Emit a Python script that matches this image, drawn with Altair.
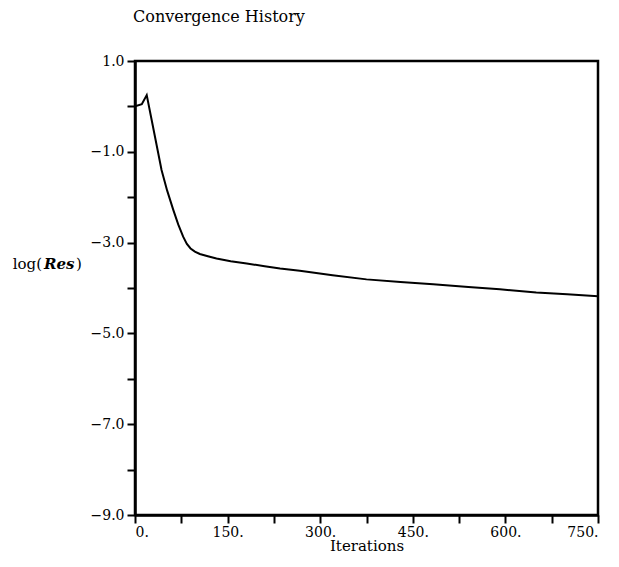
import altair as alt
import pandas as pd

iterations = [0, 11, 19, 27, 35, 43, 52, 62, 70, 78, 84, 90, 97, 105, 118, 132,
              155, 181, 210, 235, 267, 320, 375, 430, 483, 540, 591, 650, 700, 750]
log_res = [0.0, 0.05, 0.25, -0.30, -0.85, -1.40, -1.85, -2.28, -2.60, -2.87, -3.03,
           -3.13, -3.20, -3.25, -3.30, -3.35, -3.41, -3.46, -3.52, -3.57, -3.62,
           -3.72, -3.81, -3.87, -3.92, -3.98, -4.03, -4.10, -4.14, -4.18]
x_ticks = [0, 75, 150, 225, 300, 375, 450, 525, 600, 675, 750]
y_ticks = [1, 0, -1, -2, -3, -4, -5, -6, -7, -8, -9]

df = pd.DataFrame({"it": iterations, "res": log_res})
FONT = "DejaVu Serif"

line = alt.Chart(df).mark_line(color="black", strokeWidth=2, clip=True).encode(
    x=alt.X("it:Q", scale=alt.Scale(domain=[0, 750], nice=False, zero=False),
            axis=alt.Axis(values=x_ticks, title="Iterations",
                          labelExpr="datum.value % 150 == 0 ? format(datum.value, 'd') + '.' : ''",
                          titlePadding=-1)),
    y=alt.Y("res:Q", scale=alt.Scale(domain=[-9, 1], nice=False, zero=False),
            axis=alt.Axis(values=y_ticks, title=None,
                          labelExpr="datum.value % 2 == 0 ? '' : format(datum.value, '.1f')")),
)

lbl = pd.DataFrame({"t": ["log("]})
t1 = alt.Chart(lbl).mark_text(font=FONT, fontSize=15, align="right", baseline="alphabetic",
                              color="black").encode(text="t:N", x=alt.value(-93), y=alt.value(208))
t2 = alt.Chart(pd.DataFrame({"t": ["Res"]})).mark_text(
    font=FONT, fontSize=15, fontStyle="italic", fontWeight="bold", align="left",
    baseline="alphabetic", color="black").encode(text="t:N", x=alt.value(-91), y=alt.value(208))
t3 = alt.Chart(pd.DataFrame({"t": [")"]})).mark_text(
    font=FONT, fontSize=15, align="left", baseline="alphabetic",
    color="black").encode(text="t:N", x=alt.value(-59), y=alt.value(208))

chart = (line + t1 + t2 + t3).properties(
    width=463, height=454,
    title=alt.TitleParams("Convergence History", anchor="start", frame="group", font=FONT,
                          fontSize=16, fontWeight="normal", color="black", dx=-2, offset=29),
    autosize=alt.AutoSizeParams(type="none"),
    padding={"left": 127, "top": 53, "right": 13, "bottom": 44},
).configure_view(stroke="black", strokeWidth=2.5).configure_axis(
    grid=False, domainColor="black", domainWidth=2.5, tickColor="black", tickWidth=2,
    tickSize=8, labelFont=FONT, labelFontSize=14, labelColor="black",
    titleFont=FONT, titleFontSize=15, titleFontWeight="normal", titleColor="black",
    labelPadding=2,
).configure_axisY(labelPadding=3)

chart.save("out.html", embed_options={"renderer": "svg", "actions": False})
